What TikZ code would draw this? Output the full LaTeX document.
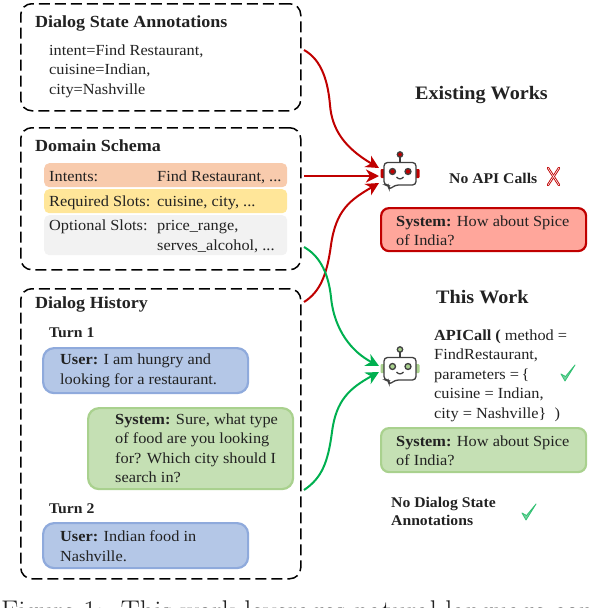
\documentclass[tikz,border=0pt]{standalone}
\usepackage{fontspec}
\setmainfont[FakeStretch=1.06]{Liberation Serif}
\newfontfamily\capfont{Latin Modern Roman}
\usetikzlibrary{arrows.meta}
\definecolor{myred}{HTML}{C00000}
\definecolor{mygreen}{HTML}{00B050}
\definecolor{bluefill}{HTML}{B4C7E7}
\definecolor{blueline}{HTML}{8FAADC}
\definecolor{greenfill}{HTML}{C5E0B4}
\definecolor{greenline}{HTML}{A9D18E}
\definecolor{redfill}{HTML}{FFA69B}
\definecolor{orangefill}{HTML}{F8CBAD}
\definecolor{yellowfill}{HTML}{FFE699}
\definecolor{grayfill}{HTML}{F2F2F2}
\definecolor{ink}{HTML}{222222}
\tikzset{
  x=1pt,y=-1pt,
  txt/.style={anchor=base west,inner sep=0pt,font=\fontsize{15.4}{17}\selectfont,text=ink},
  bold txt/.style={txt,font=\fontsize{14.8}{16}\selectfont\bfseries},
  head/.style={anchor=base west,inner sep=0pt,font=\fontsize{17}{19}\selectfont\bfseries,text=ink},
  big head/.style={head,font=\fontsize{19}{21}\selectfont\bfseries},
  dash box/.style={draw=black,line width=1.5pt,dash pattern=on 11pt off 5pt,rounded corners=11pt,anchor=north west,minimum width=280pt},
  band/.style={rounded corners=5pt,anchor=north west,minimum width=243pt},
  bubble/.style={rounded corners=11pt,line width=2.2pt,anchor=north west,minimum width=205pt},
  user bubble/.style={bubble,draw=blueline,fill=bluefill},
  sys bubble/.style={bubble,draw=greenline,fill=greenfill},
  conn/.style={line width=2pt,-{Stealth[length=13pt,width=13pt,inset=4pt]}},
  botline/.style={draw=black!75,line width=1.3pt},
}
\newcommand{\botface}[3]{%
  \begin{scope}[shift={(#1,#2)}]
    \fill[#3,rounded corners=1pt] (-19.5,-3) rectangle (-15,6);
    \fill[#3,rounded corners=1pt] (15,-3) rectangle (19.5,6);
    \draw[botline,fill=white,rounded corners=3.5pt] (-16,-9.5) -- (16,-9.5) -- (16,13) -- (-5,13) -- (-11,18) -- (-11,13) -- (-16,13) -- cycle;
    \draw[botline] (0,-15) -- (0,-9.5);
    \filldraw[botline,fill=#3] (0,-17.5) circle (2.7);
    \filldraw[botline,fill=#3] (-7.5,-0.5) circle (3);
    \filldraw[botline,fill=#3] (8,-0.5) circle (3);
    \draw[botline] (-3.5,5) .. controls (-1.5,7.5) and (1.5,7.5) .. (3.5,5);
  \end{scope}}
\newcommand{\chk}[2]{%
  \begin{scope}[shift={(#1,#2)}]
    \draw[mygreen!80!white,line width=0.8pt,line join=round,fill=mygreen!55!white] (-7,1) -- (-3,8) -- (7,-8) -- (-2.5,3.5) -- cycle;
  \end{scope}}
\begin{document}
\begin{tikzpicture}
\useasboundingbox (0,0) rectangle (600,608);
% outer dashed boxes
\node[dash box,minimum height=107pt] (state) at (20,3) {};
\node[dash box,minimum height=142pt] (domain) at (20,127) {};
\node[dash box,minimum height=290pt] (history) at (20,288) {};
% schema bands
\node[band,fill=orangefill,minimum height=24pt] (intents) at (44,163) {};
\node[band,fill=yellowfill,minimum height=24pt] (required) at (44,189) {};
\node[band,fill=grayfill,minimum height=40pt] (optional) at (44,215) {};
% bubbles
\node[user bubble,minimum height=45pt] (user1) at (42,347) {};
\node[sys bubble,minimum height=81pt] (sys1) at (87,407) {};
\node[user bubble,minimum height=45pt] (user2) at (42,522) {};
\node[bubble,rounded corners=8pt,draw=myred,fill=redfill,minimum height=43pt] (resp1) at (380,207) {};
\node[sys bubble,rounded corners=8pt,minimum height=44pt] (resp2) at (380,427) {};
% headings
\node[head] (t1) at (35,27) {Dialog State Annotations};
\node[head] (t2) at (35,151) {Domain Schema};
\node[head] (t3) at (35,308) {Dialog History};
\node[big head] (t4) at (415,99) {Existing Works};
\node[big head] (t5) at (436,303) {This Work};
% annotation text
\node[txt] (a1) at (49,55) {intent=Find Restaurant,};
\node[txt] (a2) at (49,74) {cuisine=Indian,};
\node[txt] (a3) at (49,94) {city=Nashville};
% schema text
\node[txt] (b1) at (49,181) {Intents:};
\node[txt] (b2) at (157,181) {Find Restaurant, ...};
\node[txt] (b3) at (49,206) {Required Slots:};
\node[txt] (b4) at (157,206) {cuisine, city, ...};
\node[txt] (b5) at (49,230) {Optional Slots:};
\node[txt] (b6) at (157,230) {price\_range,};
\node[txt] (b7) at (157,250) {serves\_alcohol, ...};
% history
\node[bold txt] (c1) at (49,337) {Turn 1};
\node[txt] (c2) at (60,364) {\textbf{User:} I am hungry and};
\node[txt] (c3) at (60,384) {looking for a restaurant.};
\node[txt] (c4) at (115,424) {\textbf{System:} Sure, what type};
\node[txt] (c5) at (115,443) {of food are you looking};
\node[txt] (c6) at (115,463) {for? Which city should I};
\node[txt] (c7) at (115,482) {search in?};
\node[bold txt] (c8) at (49,513) {Turn 2};
\node[txt] (c9) at (60,541) {\textbf{User:} Indian food in};
\node[txt] (c10) at (60,561) {Nashville.};
% right column
\node[bold txt] (d1) at (449,183) {No API Calls};
\node[txt] (d2) at (396,226) {\textbf{System:} How about Spice};
\node[txt] (d3) at (396,245) {of India?};
\node[txt] (e1) at (434,340) {\textbf{APICall (} method =};
\node[txt] (e2) at (434,359) {FindRestaurant,};
\node[txt] (e3) at (434,379) {parameters =\,\{};
\node[txt] (e4) at (434,398) {cuisine = Indian,};
\node[txt] (e5) at (434,418) {city = Nashville\}\ \ )};
\node[txt] (d4) at (396,446) {\textbf{System:} How about Spice};
\node[txt] (d5) at (396,465) {of India?};
\node[bold txt] (f1) at (391,507) {No Dialog State};
\node[bold txt] (f2) at (391,525) {Annotations};
% caption
\node[anchor=base west,inner sep=0pt,font=\capfont\fontsize{28.5}{30}\selectfont,text=ink] (cap) at (1,620) {Figure 1:\ \ This work leverages natural language con};
% marks
\chk{568}{373}
\chk{529}{512}
\begin{scope}[shift={(553,176)}]
  \draw[myred,line width=2.4pt,line cap=round] (-5,-8) -- (6,9);
  \draw[myred,line width=2.4pt,line cap=round] (6,-8) -- (-5,9);
  \draw[white,line width=0.6pt] (-5,-8) -- (6,9);
  \draw[white,line width=0.6pt] (6,-8) -- (-5,9);
\end{scope}
% robots
\botface{400}{172}{myred}{}
\botface{400}{367}{greenline}{}
\coordinate (botA) at (379,176);
\coordinate (botAu) at (379,168);
\coordinate (botAd) at (379,183);
\coordinate (botBu) at (379,366);
\coordinate (botBd) at (379,372);
\coordinate (s1) at (304,50);
\coordinate (s2) at (304,176);
\coordinate (s3) at (304,302);
\coordinate (s4) at (304,247);
\coordinate (s5) at (304,490);
% connectors
\draw[conn,myred] (s1) .. controls (322,60) and (328,82) .. (330,105) .. controls (332,130) and (345,148) .. (botAu);
\draw[conn,myred] (s2) -- (botA);
\draw[conn,myred] (s3) .. controls (320,292) and (327,275) .. (331,245) .. controls (336,210) and (350,200) .. (botAd);
\draw[conn,mygreen] (s4) .. controls (318,255) and (328,270) .. (331,297) .. controls (334,330) and (352,352) .. (botBu);
\draw[conn,mygreen] (s5) .. controls (322,478) and (328,462) .. (332,432) .. controls (336,400) and (350,388) .. (botBd);
\end{tikzpicture}
\end{document}
